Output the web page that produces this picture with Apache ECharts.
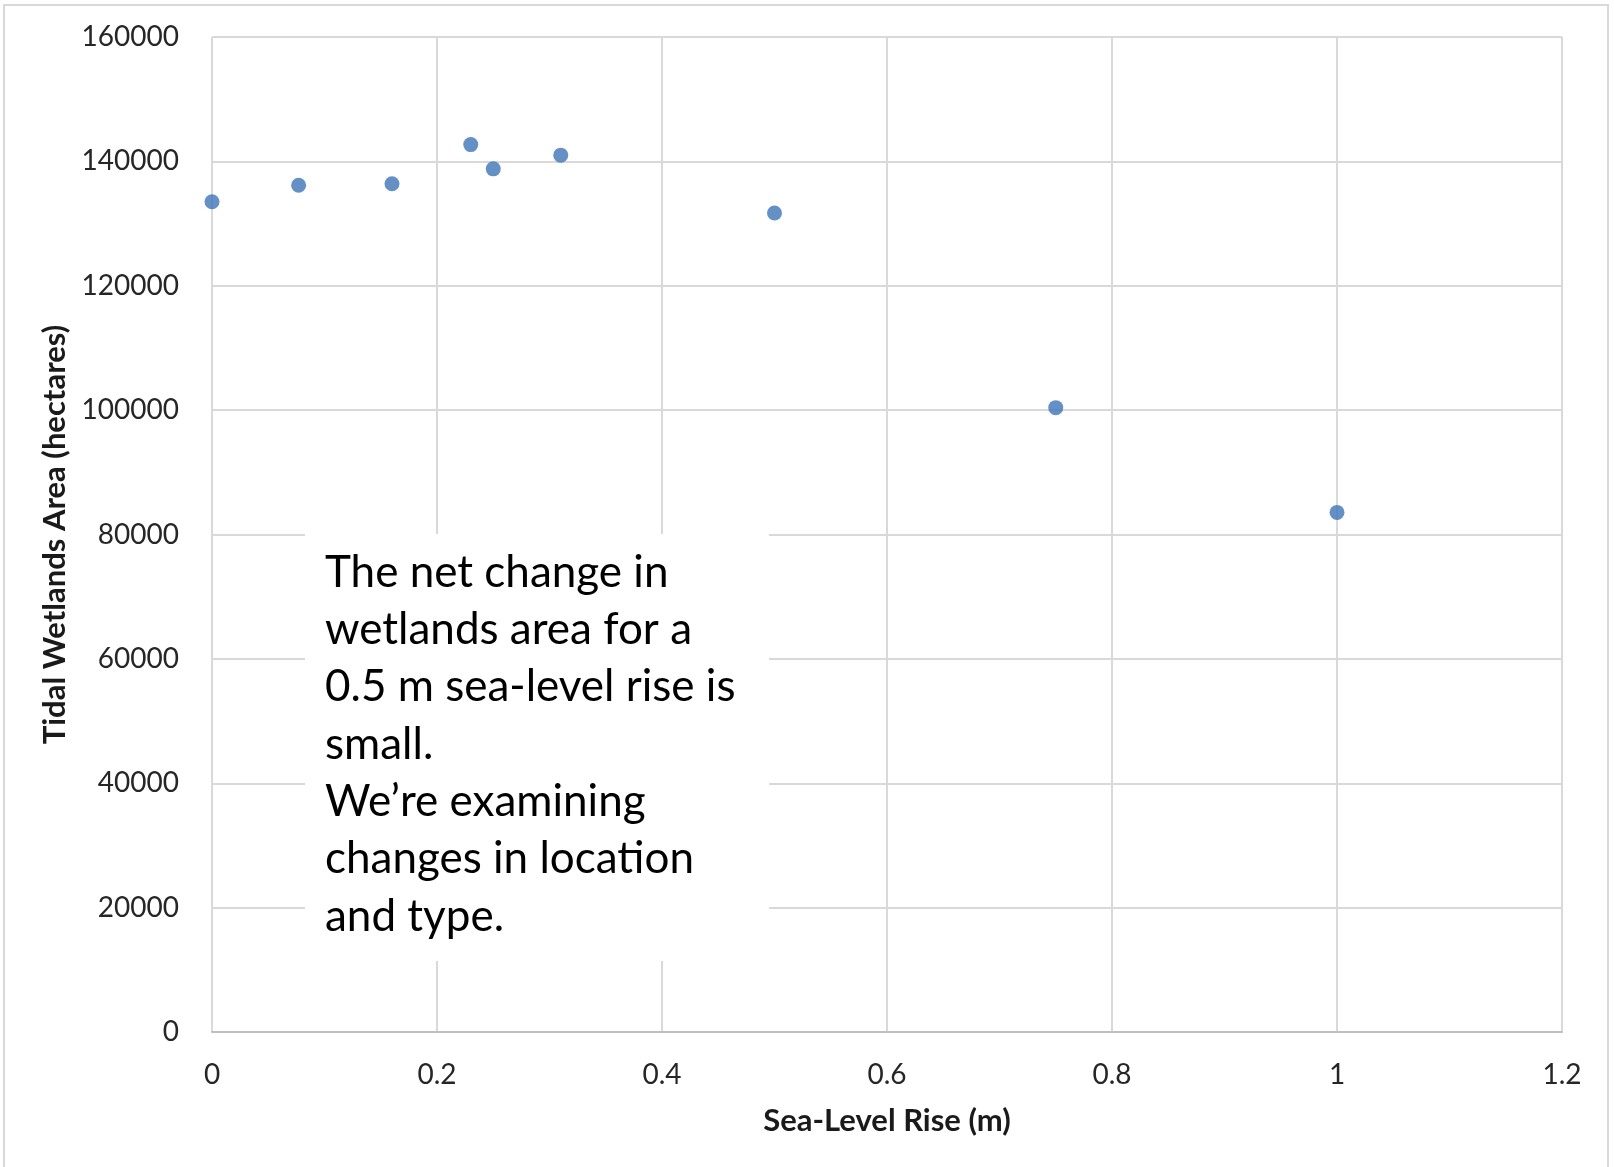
<!DOCTYPE html>
<html>
<head>
<meta charset="utf-8">
<script src="https://cdn.jsdelivr.net/npm/echarts@6/dist/echarts.min.js"></script>
<style>
  html, body { margin: 0; padding: 0; background: #fff; }
  #chart { width: 1614px; height: 1167px; }
</style>
</head>
<body>
<div id="chart"></div>
<script>
// sea-level rise (m) and tidal wetlands area (hectares)
let seaLevelRise = [0, 0.077, 0.16, 0.23, 0.25, 0.31, 0.5, 0.75, 1];
let wetlandsArea = [133500, 136150, 136400, 142700, 138800, 141000, 131700, 100400, 83550];

let xTicks = [0, 0.2, 0.4, 0.6, 0.8, 1, 1.2];
let yTicks = [0, 20000, 40000, 60000, 80000, 100000, 120000, 140000, 160000];

let noteLines = [
  'The net change in',
  'wetlands area for a',
  '0.5 m sea-level rise is',
  'small.',
  'We\u2019re examining',
  'changes in location',
  'and type.'
];

let font = 'Lato, "Open Sans", sans-serif';
let gridColor = '#d9d9d9';

let chart = echarts.init(document.getElementById('chart'));

let points = seaLevelRise.map((x, i) => [x, wetlandsArea[i]]);

let option = {
  backgroundColor: '#fff',
  animation: false,
  grid: {
    left: 212,
    right: 52,
    top: 37,
    bottom: 135,
    containLabel: false
  },
  xAxis: {
    type: 'value',
    min: xTicks[0],
    max: xTicks[xTicks.length - 1],
    interval: 0.2,
    name: 'Sea-Level Rise (m)',
    nameLocation: 'middle',
    nameGap: 73,
    nameTextStyle: {
      fontFamily: font,
      fontSize: 31,
      fontWeight: 'bold',
      color: '#1a1a1a'
    },
    axisLine: {show: true, lineStyle: {color: '#bfbfbf', width: 2}},
    axisTick: {show: false},
    axisLabel: {
      margin: 29,
      fontFamily: font,
      fontSize: 28,
      color: '#262626',
      formatter: v => String(parseFloat(v.toFixed(1)))
    },
    splitLine: {show: true, lineStyle: {color: gridColor, width: 2}}
  },
  yAxis: {
    type: 'value',
    min: yTicks[0],
    max: yTicks[yTicks.length - 1],
    interval: 20000,
    name: 'Tidal Wetlands Area (hectares)',
    nameLocation: 'middle',
    nameRotate: 90,
    nameGap: 142,
    nameTextStyle: {
      fontFamily: font,
      fontSize: 31,
      fontWeight: 'bold',
      color: '#1a1a1a'
    },
    axisLine: {show: false},
    axisTick: {show: false},
    axisLabel: {
      margin: 33,
      fontFamily: font,
      fontSize: 28,
      color: '#262626',
      formatter: v => String(v)
    },
    splitLine: {show: true, lineStyle: {color: gridColor, width: 2}}
  },
  series: [
    {
      type: 'scatter',
      data: points,
      symbol: 'circle',
      symbolSize: 15,
      itemStyle: {color: '#3f74b6'}
    }
  ],
  graphic: [
    // outer chart border
    {
      type: 'rect',
      shape: {x: 4, y: 5, width: 1604, height: 1180},
      style: {fill: 'none', stroke: gridColor, lineWidth: 2},
      silent: true
    },
    // note box over the plot
    {
      type: 'rect',
      z: 100,
      shape: {x: 305, y: 534, width: 464, height: 427},
      style: {fill: '#fff'},
      silent: true
    },
    {
      type: 'text',
      z: 101,
      left: 325,
      top: 544,
      style: {
        text: noteLines.join('\n'),
        font: '44px ' + font,
        lineHeight: 57.3,
        fill: '#000'
      },
      silent: true
    }
  ]
};

chart.setOption(option);
</script>
</body>
</html>
